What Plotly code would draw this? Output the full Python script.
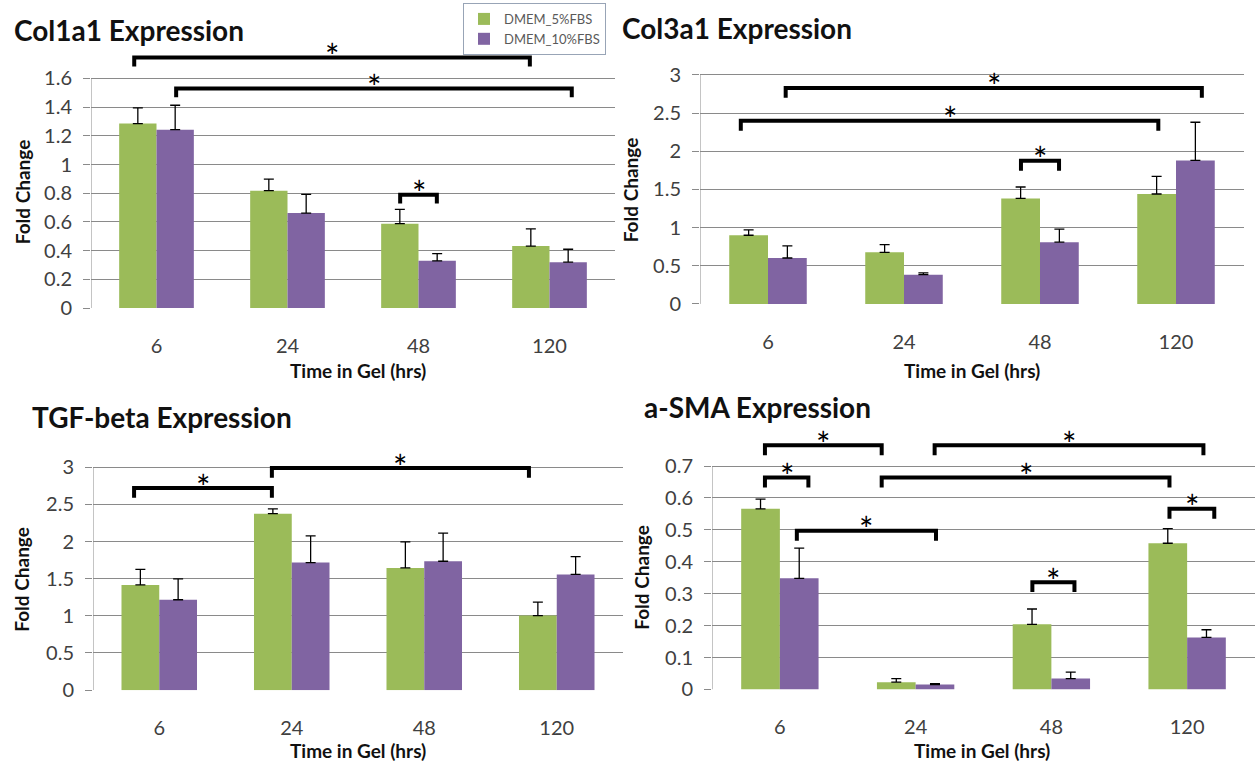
import plotly.graph_objects as go

W, H = 1255, 780

categories = ["6", "24", "48", "120"]
series_names = ["DMEM_5%FBS", "DMEM_10%FBS"]
series_colors = ["#9BBB59", "#8064A2"]

col1a1_5 = [1.285, 0.818, 0.588, 0.432]
col1a1_5_err = [0.11, 0.08, 0.10, 0.12]
col1a1_10 = [1.243, 0.662, 0.329, 0.320]
col1a1_10_err = [0.17, 0.13, 0.05, 0.09]

col3a1_5 = [0.90, 0.676, 1.382, 1.44]
col3a1_5_err = [0.07, 0.10, 0.15, 0.23]
col3a1_10 = [0.602, 0.383, 0.809, 1.88]
col3a1_10_err = [0.16, 0.025, 0.17, 0.50]

tgf_5 = [1.416, 2.376, 1.646, 1.004]
tgf_5_err = [0.21, 0.065, 0.35, 0.18]
tgf_10 = [1.217, 1.717, 1.735, 1.558]
tgf_10_err = [0.28, 0.36, 0.38, 0.24]

asma_5 = [0.566, 0.0226, 0.204, 0.458]
asma_5_err = [0.03, 0.011, 0.048, 0.046]
asma_10 = [0.348, 0.0154, 0.034, 0.163]
asma_10_err = [0.095, 0.003, 0.02, 0.024]

col1a1_ticks = [0, 0.2, 0.4, 0.6, 0.8, 1, 1.2, 1.4, 1.6]
col3a1_ticks = [0, 0.5, 1, 1.5, 2, 2.5, 3]
tgf_ticks = [0, 0.5, 1, 1.5, 2, 2.5, 3]
asma_ticks = [0, 0.1, 0.2, 0.3, 0.4, 0.5, 0.6, 0.7]

# significance brackets: (x start, x end, bracket height) in category units / data units
col1a1_sig = [(-0.17, 2.85, 1.745), (0.15, 3.17, 1.53), (1.86, 2.14, 0.79)]
col3a1_sig = [(0.13, 3.19, 2.83), (-0.2, 2.87, 2.40), (1.86, 2.14, 1.876)]
tgf_sig = [(-0.19, 0.85, 2.72), (0.85, 2.79, 2.99)]
asma_sig = [(-0.11, 0.75, 0.765), (-0.11, 0.21, 0.664), (0.75, 2.87, 0.664),
            (1.14, 3.12, 0.765), (0.125, 1.15, 0.497), (1.86, 2.17, 0.336),
            (2.87, 3.2, 0.566)]

panels = [
    dict(title="Col1a1 Expression", s5=col1a1_5, e5=col1a1_5_err, s10=col1a1_10, e10=col1a1_10_err,
         ticks=col1a1_ticks, sig=col1a1_sig, top=1.9, drop=0.062,
         px=(91, 615), py=(312.5, 1.6, 79.5), title_xy=(12, 30), ylab=(22, 195), xlab=(358, 376)),
    dict(title="Col3a1 Expression", s5=col3a1_5, e5=col3a1_5_err, s10=col3a1_10, e10=col3a1_10_err,
         ticks=col3a1_ticks, sig=col3a1_sig, top=3.25, drop=0.13,
         px=(700, 1244), py=(308.3, 3.0, 76.0), title_xy=(620, 28), ylab=(630, 193), xlab=(972, 376)),
    dict(title="TGF-beta Expression", s5=tgf_5, e5=tgf_5_err, s10=tgf_10, e10=tgf_10_err,
         ticks=tgf_ticks, sig=tgf_sig, top=3.35, drop=0.13,
         px=(93, 623), py=(700.0, 3.0, 474.0), title_xy=(30, 423), ylab=(22, 588), xlab=(358, 761)),
    dict(title="a-SMA Expression", s5=asma_5, e5=asma_5_err, s10=asma_10, e10=asma_10_err,
         ticks=asma_ticks, sig=asma_sig, top=0.84, drop=0.031,
         px=(712, 1255), py=(699.3, 0.7, 472.7), title_xy=(642, 413), ylab=(642, 586), xlab=(982, 761)),
]

FONT = "Lato"
GRID = "#8a8a8a"
TICKFONT = dict(size=20, color="#404040", family=FONT)

fig = go.Figure()
layout = dict(
    width=W, height=H, margin=dict(l=0, r=0, t=0, b=0),
    paper_bgcolor="white", plot_bgcolor="white",
    barmode="group", bargap=0.43, bargroupgap=0,
    font=dict(family=FONT, color="#404040", size=17),
    showlegend=True,
    legend=dict(x=463 / W, y=1 - 3 / H, xanchor="left", yanchor="top",
                bgcolor="white", bordercolor="#98a4b6", borderwidth=1,
                font=dict(family=FONT, size=13, color="#595959"),
                tracegroupgap=0, itemwidth=30),
)
annotations = []
shapes = []

for i, p in enumerate(panels):
    n = "" if i == 0 else str(i + 1)
    xa, ya = "x" + n, "y" + n
    zero_px, tick_val, tick_px = p["py"]
    unit = (zero_px - tick_px) / tick_val
    top_px = zero_px - p["top"] * unit
    layout["xaxis" + n] = dict(
        domain=[p["px"][0] / W, p["px"][1] / W], anchor=ya, range=[-0.5, 3.5],
        tickvals=[0, 1, 2, 3], ticktext=categories, showgrid=False, zeroline=False,
        showline=False, ticks="outside", ticklen=20, tickcolor="rgba(0,0,0,0)",
        tickfont=TICKFONT, fixedrange=True)
    layout["yaxis" + n] = dict(
        domain=[1 - zero_px / H, 1 - top_px / H], anchor=xa, range=[0, p["top"]],
        tickvals=p["ticks"], ticktext=["%g" % t for t in p["ticks"]],
        showgrid=True, gridcolor=GRID, gridwidth=1, zeroline=False, showline=False,
        ticks="outside", ticklen=7, tickcolor=GRID, ticklabelstandoff=7,
        tickfont=TICKFONT, fixedrange=True)

    for s, (vals, errs) in enumerate([(p["s5"], p["e5"]), (p["s10"], p["e10"])]):
        fig.add_trace(go.Bar(
            x=[0, 1, 2, 3], y=vals, name=series_names[s], xaxis=xa, yaxis=ya,
            marker=dict(color=series_colors[s], line=dict(width=0)),
            error_y=dict(type="data", array=errs, arrayminus=[0] * len(errs), symmetric=False,
                         color="black", thickness=1.3, width=5),
            showlegend=(i == 0), legendgroup=series_names[s]))

    # y axis line
    shapes.append(dict(type="line", xref=xa, yref=ya, x0=-0.5, x1=-0.5, y0=0, y1=p["ticks"][-1],
                       line=dict(color=GRID, width=1)))

    for (x0, x1, yb) in p["sig"]:
        d = p["drop"]
        fig.add_trace(go.Scatter(
            x=[x0, x0, x1, x1], y=[yb - d, yb, yb, yb - d], mode="lines", xaxis=xa, yaxis=ya,
            line=dict(color="black", width=4), showlegend=False, hoverinfo="skip"))
        annotations.append(dict(xref=xa, yref=ya, x=(x0 + x1) / 2, y=yb, text="*",
                                showarrow=False, yanchor="middle", yshift=2,
                                font=dict(family=FONT, size=34, color="#000000")))

    tx, ty = p["title_xy"]
    annotations.append(dict(xref="paper", yref="paper", x=tx / W, y=1 - ty / H, text="<b>%s</b>" % p["title"],
                            showarrow=False, xanchor="left", yanchor="middle",
                            font=dict(family=FONT, size=28, color="#111111")))
    lx, ly = p["ylab"]
    annotations.append(dict(xref="paper", yref="paper", x=lx / W, y=1 - ly / H, text="<b>Fold Change</b>",
                            showarrow=False, xanchor="center", yanchor="middle", textangle=-90,
                            font=dict(family=FONT, size=19, color="#111111")))
    bx, by = p["xlab"]
    annotations.append(dict(xref="paper", yref="paper", x=bx / W, y=1 - by / H, text="<b>Time in Gel (hrs)</b>",
                            showarrow=False, xanchor="center", yanchor="middle",
                            font=dict(family=FONT, size=19, color="#111111")))

layout["annotations"] = annotations
layout["shapes"] = shapes
fig.update_layout(**layout)
fig.write_html("out.html")
